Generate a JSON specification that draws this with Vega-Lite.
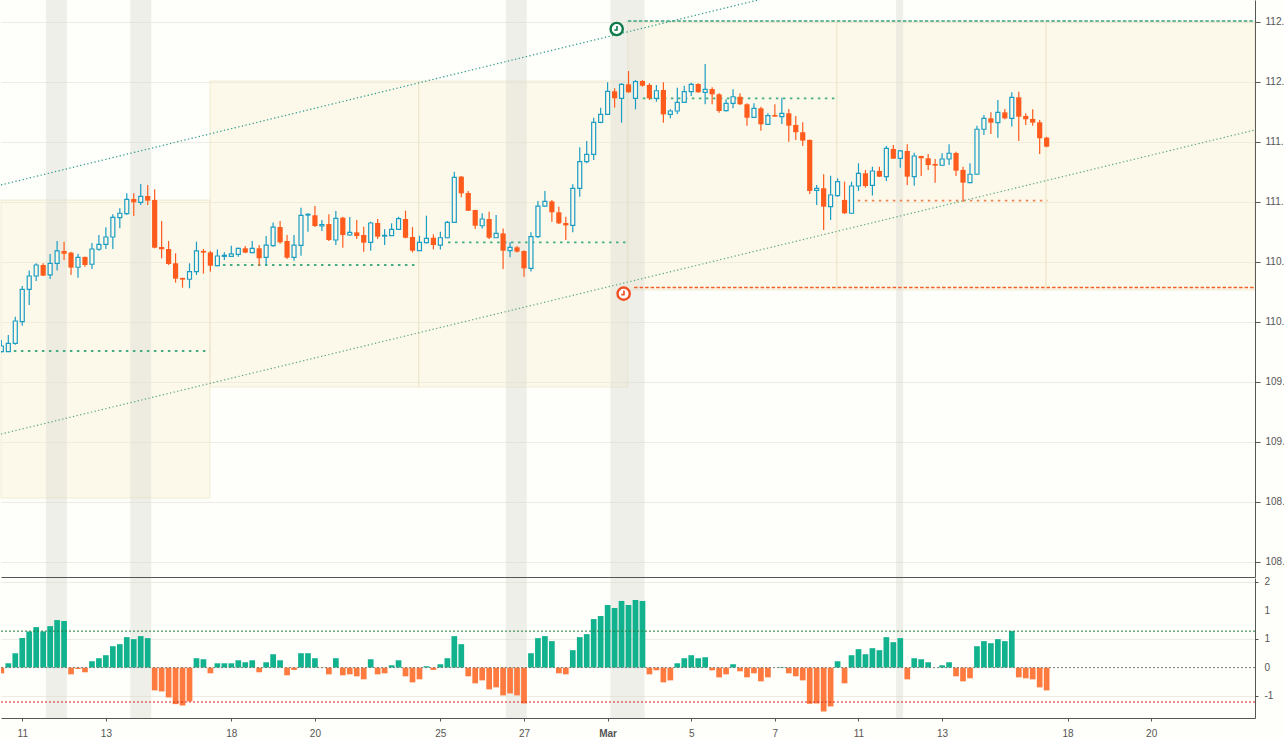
{
  "$schema": "https://vega.github.io/schema/vega-lite/v6.json",
  "background": "#fefefa",
  "padding": 0,
  "spacing": 0,
  "config": {
    "view": {"stroke": null},
    "font": "Liberation Sans",
    "axis": {"labelFont": "Liberation Sans", "labelFontSize": 10, "labelColor": "#555555", "domainColor": "#555555", "tickColor": "#555555", "gridColor": "#ecece4", "labelOverlap": false}
  },
  "datasets": {
    "rects": [
      {"x1": -0.05, "x2": 29.94, "y1": 108.533, "y2": 111.016},
      {"x1": 29.94, "x2": 59.9, "y1": 109.458, "y2": 112.008},
      {"x1": 59.9, "x2": 89.9, "y1": 109.458, "y2": 112.008},
      {"x1": 89.9, "x2": 119.9, "y1": 110.266, "y2": 112.5},
      {"x1": 119.9, "x2": 149.9, "y1": 110.266, "y2": 112.5},
      {"x1": 149.9, "x2": 179.85, "y1": 110.266, "y2": 112.5}
    ],
    "bands": [
      {"b1": 6.4, "b2": 9.4},
      {"b1": 18.5, "b2": 21.5},
      {"b1": 72.4, "b2": 75.4},
      {"b1": 87.4, "b2": 92.3},
      {"b1": 128.4, "b2": 129.4}
    ],
    "levels": [
      {"x1": 1.8, "x2": 29.94, "y": 109.758, "side": "up"},
      {"x1": 31.8, "x2": 59.9, "y": 110.475, "side": "up"},
      {"x1": 64.1, "x2": 90.05, "y": 110.664, "side": "up"},
      {"x1": 92.06, "x2": 120.0, "y": 111.864, "side": "up"},
      {"x1": 121.9, "x2": 150.1, "y": 111.011, "side": "down"}
    ],
    "upper": [{"k": -0.05, "p": 111.142}, {"k": 115, "p": 112.774}],
    "lower": [{"k": -0.05, "p": 109.066}, {"k": 179.9, "p": 111.6}],
    "signals": [
      {"k": 88.3, "p": 112.441, "x1": 89.9, "x2": 179.9, "lp": 112.508, "side": "up"},
      {"k": 89.3, "p": 110.236, "x1": 90.8, "x2": 179.9, "lp": 110.287, "side": "down"}
    ],
    "osclines": [
      {"v": 0.641, "col": "#1b7a3c"},
      {"v": 0, "col": "#7a7a7a"},
      {"v": -0.604, "col": "#d02020"}
    ],
    "osclabels": [
      {"v": 1.5, "t": "2", "pos": 181.25},
      {"v": 1, "t": "1", "pos": 181.25},
      {"v": 0.5, "t": "1", "pos": 181.25},
      {"v": 0, "t": "0", "pos": 181.25},
      {"v": -0.5, "t": "-1", "pos": 181.25}
    ],
    "candles": [
      {"k":0,"o":109.753,"h":109.85,"l":109.745,"c":109.8},
      {"k":1,"o":109.753,"h":109.892,"l":109.75,"c":109.822},
      {"k":2,"o":109.822,"h":110.044,"l":109.81,"c":110.008},
      {"k":3,"o":110.003,"h":110.3,"l":109.969,"c":110.272},
      {"k":4,"o":110.272,"h":110.428,"l":110.142,"c":110.383},
      {"k":5,"o":110.383,"h":110.489,"l":110.342,"c":110.475},
      {"k":6,"o":110.475,"h":110.489,"l":110.383,"c":110.386},
      {"k":7,"o":110.392,"h":110.567,"l":110.358,"c":110.489},
      {"k":8,"o":110.489,"h":110.675,"l":110.428,"c":110.592},
      {"k":9,"o":110.592,"h":110.669,"l":110.517,"c":110.569},
      {"k":10,"o":110.578,"h":110.586,"l":110.392,"c":110.453},
      {"k":11,"o":110.456,"h":110.569,"l":110.369,"c":110.539},
      {"k":12,"o":110.542,"h":110.545,"l":110.461,"c":110.475},
      {"k":13,"o":110.481,"h":110.658,"l":110.442,"c":110.608},
      {"k":14,"o":110.606,"h":110.725,"l":110.594,"c":110.647},
      {"k":15,"o":110.647,"h":110.789,"l":110.608,"c":110.708},
      {"k":16,"o":110.708,"h":110.897,"l":110.608,"c":110.872},
      {"k":17,"o":110.869,"h":110.947,"l":110.781,"c":110.906},
      {"k":18,"o":110.903,"h":111.072,"l":110.894,"c":111.022},
      {"k":19,"o":111.025,"h":111.072,"l":110.883,"c":110.997},
      {"k":20,"o":110.997,"h":111.15,"l":110.975,"c":111.047},
      {"k":21,"o":111.05,"h":111.142,"l":110.975,"c":111.011},
      {"k":22,"o":111.017,"h":111.106,"l":110.614,"c":110.619},
      {"k":23,"o":110.625,"h":110.842,"l":110.531,"c":110.606},
      {"k":24,"o":110.608,"h":110.675,"l":110.475,"c":110.483},
      {"k":25,"o":110.489,"h":110.572,"l":110.328,"c":110.361},
      {"k":26,"o":110.367,"h":110.369,"l":110.286,"c":110.353},
      {"k":27,"o":110.356,"h":110.489,"l":110.281,"c":110.419},
      {"k":28,"o":110.419,"h":110.669,"l":110.392,"c":110.592},
      {"k":29,"o":110.592,"h":110.608,"l":110.403,"c":110.578},
      {"k":30,"o":110.58,"h":110.592,"l":110.419,"c":110.469},
      {"k":31,"o":110.469,"h":110.603,"l":110.465,"c":110.55},
      {"k":32,"o":110.547,"h":110.581,"l":110.517,"c":110.556},
      {"k":33,"o":110.547,"h":110.636,"l":110.544,"c":110.567},
      {"k":34,"o":110.564,"h":110.619,"l":110.544,"c":110.614},
      {"k":35,"o":110.614,"h":110.633,"l":110.572,"c":110.578},
      {"k":36,"o":110.578,"h":110.675,"l":110.572,"c":110.614},
      {"k":37,"o":110.614,"h":110.642,"l":110.469,"c":110.531},
      {"k":38,"o":110.539,"h":110.716,"l":110.475,"c":110.641},
      {"k":39,"o":110.636,"h":110.83,"l":110.627,"c":110.791},
      {"k":40,"o":110.791,"h":110.841,"l":110.652,"c":110.664},
      {"k":41,"o":110.675,"h":110.725,"l":110.525,"c":110.536},
      {"k":42,"o":110.539,"h":110.725,"l":110.511,"c":110.641},
      {"k":43,"o":110.639,"h":110.952,"l":110.552,"c":110.889},
      {"k":44,"o":110.891,"h":110.905,"l":110.752,"c":110.897},
      {"k":45,"o":110.889,"h":110.966,"l":110.791,"c":110.8},
      {"k":46,"o":110.8,"h":110.85,"l":110.758,"c":110.811},
      {"k":47,"o":110.816,"h":110.897,"l":110.675,"c":110.683},
      {"k":48,"o":110.683,"h":110.925,"l":110.641,"c":110.864},
      {"k":49,"o":110.869,"h":110.877,"l":110.619,"c":110.725},
      {"k":50,"o":110.725,"h":110.875,"l":110.719,"c":110.747},
      {"k":51,"o":110.747,"h":110.85,"l":110.691,"c":110.716},
      {"k":52,"o":110.725,"h":110.794,"l":110.586,"c":110.661},
      {"k":53,"o":110.664,"h":110.836,"l":110.594,"c":110.825},
      {"k":54,"o":110.825,"h":110.858,"l":110.691,"c":110.711},
      {"k":55,"o":110.716,"h":110.772,"l":110.641,"c":110.722},
      {"k":56,"o":110.719,"h":110.822,"l":110.716,"c":110.772},
      {"k":57,"o":110.772,"h":110.877,"l":110.766,"c":110.861},
      {"k":58,"o":110.858,"h":110.927,"l":110.697,"c":110.702},
      {"k":59,"o":110.708,"h":110.791,"l":110.58,"c":110.594},
      {"k":60,"o":110.594,"h":110.719,"l":110.591,"c":110.664},
      {"k":61,"o":110.661,"h":110.886,"l":110.655,"c":110.697},
      {"k":62,"o":110.702,"h":110.73,"l":110.605,"c":110.641},
      {"k":63,"o":110.641,"h":110.752,"l":110.605,"c":110.702},
      {"k":64,"o":110.702,"h":110.841,"l":110.697,"c":110.83},
      {"k":65,"o":110.83,"h":111.252,"l":110.825,"c":111.205},
      {"k":66,"o":111.211,"h":111.216,"l":111.039,"c":111.072},
      {"k":67,"o":111.075,"h":111.091,"l":110.925,"c":110.927},
      {"k":68,"o":110.933,"h":110.935,"l":110.775,"c":110.802},
      {"k":69,"o":110.802,"h":110.905,"l":110.78,"c":110.858},
      {"k":70,"o":110.858,"h":110.919,"l":110.691,"c":110.702},
      {"k":71,"o":110.702,"h":110.891,"l":110.7,"c":110.738},
      {"k":72,"o":110.738,"h":110.78,"l":110.441,"c":110.594},
      {"k":73,"o":110.594,"h":110.664,"l":110.539,"c":110.622},
      {"k":74,"o":110.622,"h":110.633,"l":110.58,"c":110.586},
      {"k":75,"o":110.591,"h":110.597,"l":110.377,"c":110.447},
      {"k":76,"o":110.447,"h":110.747,"l":110.42,"c":110.711},
      {"k":77,"o":110.711,"h":111.008,"l":110.7,"c":110.966},
      {"k":78,"o":110.966,"h":111.091,"l":110.961,"c":111.005},
      {"k":79,"o":111.005,"h":111.016,"l":110.836,"c":110.914},
      {"k":80,"o":110.914,"h":110.961,"l":110.816,"c":110.822},
      {"k":81,"o":110.825,"h":110.877,"l":110.683,"c":110.805},
      {"k":82,"o":110.805,"h":111.147,"l":110.747,"c":111.114},
      {"k":83,"o":111.114,"h":111.455,"l":111.044,"c":111.336},
      {"k":84,"o":111.336,"h":111.508,"l":111.322,"c":111.397},
      {"k":85,"o":111.397,"h":111.702,"l":111.35,"c":111.664},
      {"k":86,"o":111.664,"h":111.786,"l":111.655,"c":111.73},
      {"k":87,"o":111.73,"h":111.997,"l":111.725,"c":111.922},
      {"k":88,"o":111.922,"h":111.947,"l":111.786,"c":111.864},
      {"k":89,"o":111.864,"h":111.989,"l":111.661,"c":111.98},
      {"k":90,"o":111.98,"h":112.091,"l":111.91,"c":111.914},
      {"k":91,"o":111.864,"h":112.016,"l":111.772,"c":112.003},
      {"k":92,"o":112.008,"h":112.016,"l":111.961,"c":111.969},
      {"k":93,"o":111.975,"h":111.989,"l":111.85,"c":111.864},
      {"k":94,"o":111.864,"h":111.975,"l":111.836,"c":111.927},
      {"k":95,"o":111.933,"h":111.997,"l":111.661,"c":111.73},
      {"k":96,"o":111.73,"h":111.772,"l":111.697,"c":111.758},
      {"k":97,"o":111.758,"h":111.952,"l":111.733,"c":111.83},
      {"k":98,"o":111.83,"h":111.969,"l":111.827,"c":111.919},
      {"k":99,"o":111.919,"h":111.994,"l":111.883,"c":111.98},
      {"k":100,"o":111.983,"h":111.989,"l":111.911,"c":111.914},
      {"k":101,"o":111.914,"h":112.15,"l":111.814,"c":111.939},
      {"k":102,"o":111.941,"h":111.955,"l":111.814,"c":111.897},
      {"k":103,"o":111.897,"h":111.905,"l":111.744,"c":111.758},
      {"k":104,"o":111.761,"h":111.855,"l":111.753,"c":111.822},
      {"k":105,"o":111.822,"h":111.939,"l":111.78,"c":111.877},
      {"k":106,"o":111.877,"h":111.905,"l":111.808,"c":111.814},
      {"k":107,"o":111.814,"h":111.822,"l":111.636,"c":111.702},
      {"k":108,"o":111.705,"h":111.822,"l":111.702,"c":111.78},
      {"k":109,"o":111.78,"h":111.794,"l":111.594,"c":111.647},
      {"k":110,"o":111.647,"h":111.739,"l":111.641,"c":111.719},
      {"k":111,"o":111.725,"h":111.814,"l":111.711,"c":111.711},
      {"k":112,"o":111.711,"h":111.869,"l":111.65,"c":111.739},
      {"k":113,"o":111.739,"h":111.775,"l":111.502,"c":111.636},
      {"k":114,"o":111.642,"h":111.717,"l":111.517,"c":111.581},
      {"k":115,"o":111.581,"h":111.664,"l":111.467,"c":111.511},
      {"k":116,"o":111.517,"h":111.52,"l":111.067,"c":111.092},
      {"k":117,"o":111.097,"h":111.142,"l":110.975,"c":111.114},
      {"k":118,"o":111.114,"h":111.231,"l":110.767,"c":110.961},
      {"k":119,"o":110.961,"h":111.219,"l":110.85,"c":111.058},
      {"k":120,"o":111.053,"h":111.197,"l":111.044,"c":111.169},
      {"k":121,"o":111.017,"h":111.169,"l":110.9,"c":110.906},
      {"k":122,"o":110.906,"h":111.169,"l":110.9,"c":111.133},
      {"k":123,"o":111.133,"h":111.322,"l":111.092,"c":111.239},
      {"k":124,"o":111.239,"h":111.267,"l":111.119,"c":111.133},
      {"k":125,"o":111.139,"h":111.294,"l":111.053,"c":111.258},
      {"k":126,"o":111.258,"h":111.294,"l":111.208,"c":111.211},
      {"k":127,"o":111.211,"h":111.467,"l":111.175,"c":111.447},
      {"k":128,"o":111.442,"h":111.475,"l":111.358,"c":111.361},
      {"k":129,"o":111.364,"h":111.433,"l":111.286,"c":111.425},
      {"k":130,"o":111.425,"h":111.481,"l":111.142,"c":111.211},
      {"k":131,"o":111.211,"h":111.411,"l":111.136,"c":111.383},
      {"k":132,"o":111.383,"h":111.386,"l":111.217,"c":111.364},
      {"k":133,"o":111.364,"h":111.4,"l":111.267,"c":111.308},
      {"k":134,"o":111.317,"h":111.358,"l":111.161,"c":111.303},
      {"k":135,"o":111.306,"h":111.406,"l":111.3,"c":111.358},
      {"k":136,"o":111.358,"h":111.481,"l":111.308,"c":111.406},
      {"k":137,"o":111.408,"h":111.419,"l":111.217,"c":111.261},
      {"k":138,"o":111.267,"h":111.294,"l":111.003,"c":111.161},
      {"k":139,"o":111.161,"h":111.322,"l":111.156,"c":111.231},
      {"k":140,"o":111.231,"h":111.636,"l":111.225,"c":111.606},
      {"k":141,"o":111.606,"h":111.725,"l":111.558,"c":111.697},
      {"k":142,"o":111.697,"h":111.747,"l":111.567,"c":111.661},
      {"k":143,"o":111.661,"h":111.85,"l":111.536,"c":111.747},
      {"k":144,"o":111.747,"h":111.775,"l":111.689,"c":111.697},
      {"k":145,"o":111.697,"h":111.914,"l":111.628,"c":111.872},
      {"k":146,"o":111.872,"h":111.919,"l":111.508,"c":111.711},
      {"k":147,"o":111.717,"h":111.739,"l":111.642,"c":111.689},
      {"k":148,"o":111.692,"h":111.772,"l":111.636,"c":111.661},
      {"k":149,"o":111.664,"h":111.683,"l":111.4,"c":111.531},
      {"k":150,"o":111.536,"h":111.544,"l":111.456,"c":111.461}
    ],
    "osc": [
      {"k":0,"v":-0.1},{"k":1,"v":0.076},{"k":2,"v":0.253},{"k":3,"v":0.518},{"k":4,"v":0.635},{"k":5,"v":0.712},{"k":6,"v":0.635},{"k":7,"v":0.729},{"k":8,"v":0.835},{"k":9,"v":0.818},
      {"k":10,"v":-0.118},{"k":11,"v":-0.024},{"k":12,"v":-0.082},{"k":13,"v":0.112},{"k":14,"v":0.165},{"k":15,"v":0.218},{"k":16,"v":0.376},{"k":17,"v":0.412},{"k":18,"v":0.535},{"k":19,"v":0.5},
      {"k":20,"v":0.553},{"k":21,"v":0.518},{"k":22,"v":-0.4},{"k":23,"v":-0.418},{"k":24,"v":-0.524},{"k":25,"v":-0.641},{"k":26,"v":-0.665},{"k":27,"v":-0.594},{"k":28,"v":0.165},{"k":29,"v":0.147},
      {"k":30,"v":-0.1},{"k":31,"v":0.076},{"k":32,"v":0.076},{"k":33,"v":0.076},{"k":34,"v":0.129},{"k":35,"v":0.094},{"k":36,"v":0.129},{"k":37,"v":-0.082},{"k":38,"v":0.094},{"k":39,"v":0.235},
      {"k":40,"v":0.129},{"k":41,"v":-0.135},{"k":42,"v":-0.041},{"k":43,"v":0.253},{"k":44,"v":0.253},{"k":45,"v":0.165},{"k":46,"v":-0.005},{"k":47,"v":-0.118},{"k":48,"v":0.165},{"k":49,"v":-0.135},
      {"k":50,"v":-0.118},{"k":51,"v":-0.153},{"k":52,"v":-0.206},{"k":53,"v":0.147},{"k":54,"v":-0.118},{"k":55,"v":-0.1},{"k":56,"v":0.041},{"k":57,"v":0.129},{"k":58,"v":-0.153},{"k":59,"v":-0.259},
      {"k":60,"v":-0.206},{"k":61,"v":0.024},{"k":62,"v":-0.041},{"k":63,"v":0.059},{"k":64,"v":0.165},{"k":65,"v":0.553},{"k":66,"v":0.412},{"k":67,"v":-0.153},{"k":68,"v":-0.276},{"k":69,"v":-0.224},
      {"k":70,"v":-0.382},{"k":71,"v":-0.347},{"k":72,"v":-0.488},{"k":73,"v":-0.453},{"k":74,"v":-0.488},{"k":75,"v":-0.629},{"k":76,"v":0.253},{"k":77,"v":0.518},{"k":78,"v":0.553},{"k":79,"v":0.465},
      {"k":80,"v":-0.1},{"k":81,"v":-0.118},{"k":82,"v":0.306},{"k":83,"v":0.535},{"k":84,"v":0.588},{"k":85,"v":0.853},{"k":86,"v":0.906},{"k":87,"v":1.1},{"k":88,"v":1.047},{"k":89,"v":1.171},
      {"k":90,"v":1.1},{"k":91,"v":1.188},{"k":92,"v":1.171},{"k":93,"v":-0.118},{"k":94,"v":-0.047},{"k":95,"v":-0.259},{"k":96,"v":-0.224},{"k":97,"v":0.076},{"k":98,"v":0.165},{"k":99,"v":0.218},
      {"k":100,"v":0.165},{"k":101,"v":0.182},{"k":102,"v":-0.047},{"k":103,"v":-0.171},{"k":104,"v":-0.118},{"k":105,"v":0.059},{"k":106,"v":-0.065},{"k":107,"v":-0.171},{"k":108,"v":-0.1},{"k":109,"v":-0.241},
      {"k":110,"v":-0.171},{"k":111,"v":0.0},{"k":112,"v":0.01},{"k":113,"v":-0.1},{"k":114,"v":-0.153},{"k":115,"v":-0.224},{"k":116,"v":-0.635},{"k":117,"v":-0.629},{"k":118,"v":-0.771},{"k":119,"v":-0.682},
      {"k":120,"v":0.112},{"k":121,"v":-0.276},{"k":122,"v":0.218},{"k":123,"v":0.324},{"k":124,"v":0.235},{"k":125,"v":0.341},{"k":126,"v":0.306},{"k":127,"v":0.535},{"k":128,"v":0.447},{"k":129,"v":0.518},
      {"k":130,"v":-0.206},{"k":131,"v":0.165},{"k":132,"v":0.147},{"k":133,"v":0.094},{"k":134,"v":0.0},{"k":135,"v":0.041},{"k":136,"v":0.094},{"k":137,"v":-0.153},{"k":138,"v":-0.241},{"k":139,"v":-0.188},
      {"k":140,"v":0.376},{"k":141,"v":0.465},{"k":142,"v":0.429},{"k":143,"v":0.5},{"k":144,"v":0.465},{"k":145,"v":0.641},{"k":146,"v":-0.171},{"k":147,"v":-0.188},{"k":148,"v":-0.206},{"k":149,"v":-0.347},
      {"k":150,"v":-0.4}
    ]
  },
  "vconcat": [
    {
      "width": 1254,
      "height": 577,
      "layer": [
        {
          "data": {"name": "rects"},
          "mark": {"type": "rect", "fill": "#f8eecb", "fillOpacity": 0.32, "stroke": "#e4dab4", "strokeOpacity": 0.45, "strokeWidth": 1},
          "encoding": {
            "x": {"field": "x1", "type": "quantitative", "title": null, "scale": {"domain": [-0.05, 179.9], "nice": false, "zero": false, "padding": 0},
                  "axis": {"orient": "bottom", "labels": false, "ticks": false, "grid": false, "domain": true, "zindex": 1}},
            "x2": {"field": "x2"},
            "y": {"field": "y1", "type": "quantitative", "title": null, "scale": {"domain": [107.875, 112.683], "nice": false, "zero": false, "padding": 0},
                  "axis": {"orient": "right", "values": [108, 108.5, 109, 109.5, 110, 110.5, 111, 111.5, 112, 112.5], "labelExpr": "floor(datum.value + 0.001) + '.'", "labelOverlap": false, "tickSize": 5, "labelPadding": 5, "grid": true, "zindex": 0}},
            "y2": {"field": "y2"}
          }
        },
        {
          "data": {"name": "bands"},
          "mark": {"type": "rect", "fill": "#d8d8cf", "opacity": 0.38},
          "encoding": {
            "x": {"field": "b1", "type": "quantitative", "title": null},
            "x2": {"field": "b2"}
          }
        },
        {
          "data": {"name": "levels"},
          "mark": {"type": "rule", "strokeDash": [2.5, 4.5], "strokeWidth": 1.8},
          "encoding": {
            "x": {"field": "x1", "type": "quantitative", "title": null},
            "x2": {"field": "x2"},
            "y": {"field": "y", "type": "quantitative", "title": null},
            "color": {"condition": {"test": "datum.side == 'up'", "value": "#45ad86"}, "value": "#ee8456"}
          }
        },
        {
          "data": {"name": "upper"},
          "mark": {"type": "line", "color": "#2a9a8c", "strokeDash": [1.3, 2.4], "strokeWidth": 1.2, "clip": true},
          "encoding": {
            "x": {"field": "k", "type": "quantitative", "title": null},
            "y": {"field": "p", "type": "quantitative", "title": null}
          }
        },
        {
          "data": {"name": "lower"},
          "mark": {"type": "line", "color": "#5aaa7e", "strokeDash": [1.3, 2.4], "strokeWidth": 1.2, "clip": true},
          "encoding": {
            "x": {"field": "k", "type": "quantitative", "title": null},
            "y": {"field": "p", "type": "quantitative", "title": null}
          }
        },
        {
          "data": {"name": "candles"},
          "transform": [{"filter": "datum.c >= datum.o"}],
          "mark": {"type": "rule", "color": "#1c9dc3", "strokeWidth": 1.2, "clip": true},
          "encoding": {
            "x": {"field": "k", "type": "quantitative", "title": null},
            "y": {"field": "l", "type": "quantitative", "title": null},
            "y2": {"field": "h"}
          }
        },
        {
          "data": {"name": "candles"},
          "transform": [{"filter": "datum.c >= datum.o"}],
          "mark": {"type": "bar", "size": 4, "fill": "#fcf8ea", "stroke": "#1c9dc3", "strokeWidth": 1.2, "clip": true},
          "encoding": {
            "x": {"field": "k", "type": "quantitative", "title": null},
            "y": {"field": "o", "type": "quantitative", "title": null},
            "y2": {"field": "c"}
          }
        },
        {
          "data": {"name": "candles"},
          "transform": [{"filter": "datum.c < datum.o"}],
          "mark": {"type": "rule", "color": "#fe5b1c", "strokeWidth": 1.2, "clip": true},
          "encoding": {
            "x": {"field": "k", "type": "quantitative", "title": null},
            "y": {"field": "l", "type": "quantitative", "title": null},
            "y2": {"field": "h"}
          }
        },
        {
          "data": {"name": "candles"},
          "transform": [{"filter": "datum.c < datum.o"}],
          "mark": {"type": "bar", "size": 5.2, "color": "#fe5b1c", "clip": true},
          "encoding": {
            "x": {"field": "k", "type": "quantitative", "title": null},
            "y": {"field": "o", "type": "quantitative", "title": null},
            "y2": {"field": "c"}
          }
        },
        {
          "data": {"name": "signals"},
          "mark": {"type": "rule", "strokeDash": [3.5, 2], "strokeWidth": 1.6},
          "encoding": {
            "x": {"field": "x1", "type": "quantitative", "title": null},
            "x2": {"field": "x2"},
            "y": {"field": "lp", "type": "quantitative", "title": null},
            "color": {"condition": {"test": "datum.side == 'up'", "value": "#3aa37c"}, "value": "#f0602a"}
          }
        },
        {
          "data": {"name": "signals"},
          "mark": {"type": "point", "shape": "circle", "size": 150, "filled": false, "fill": "#ffffff", "fillOpacity": 1, "strokeWidth": 2.4, "opacity": 1},
          "encoding": {
            "x": {"field": "k", "type": "quantitative", "title": null},
            "y": {"field": "p", "type": "quantitative", "title": null},
            "stroke": {"condition": {"test": "datum.side == 'up'", "value": "#0d7a48"}, "value": "#f04e23"}
          }
        },
        {
          "data": {"name": "signals"},
          "mark": {"type": "point", "shape": "M0.05,-0.5L0.05,0.15L-0.38,0.15", "size": 150, "filled": false, "strokeWidth": 1.6, "opacity": 1},
          "encoding": {
            "x": {"field": "k", "type": "quantitative", "title": null},
            "y": {"field": "p", "type": "quantitative", "title": null},
            "stroke": {"condition": {"test": "datum.side == 'up'", "value": "#0d7a48"}, "value": "#f04e23"}
          }
        }
      ]
    },
    {
      "width": 1254,
      "height": 140,
      "layer": [
        {
          "data": {"name": "bands"},
          "mark": {"type": "rect", "fill": "#d8d8cf", "opacity": 0.38},
          "encoding": {
            "x": {"field": "b1", "type": "quantitative", "title": null, "scale": {"domain": [-0.05, 179.9], "nice": false, "zero": false, "padding": 0},
                  "axis": {"orient": "bottom", "values": [3, 15, 33, 45, 63, 75, 87, 99, 111, 123, 135, 153, 165],
                           "labelExpr": "['11','13','18','20','25','27','Mar','5','7','11','13','18','20'][indexof([3,15,33,45,63,75,87,99,111,123,135,153,165], datum.value)]",
                           "labelFontWeight": {"condition": {"test": "datum.value == 87", "value": "bold"}, "value": "normal"},
                           "labelOverlap": false, "labelFlush": false, "tickSize": 3, "labelPadding": 7, "grid": false, "zindex": 1}},
            "x2": {"field": "b2"}
          }
        },
        {
          "data": {"name": "osc"},
          "mark": {"type": "bar", "size": 5.7, "clip": true},
          "encoding": {
            "x": {"field": "k", "type": "quantitative", "title": null},
            "y": {"field": "v", "type": "quantitative", "title": null, "scale": {"domain": [-0.885, 1.574], "nice": false, "zero": false, "padding": 0},
                  "axis": {"orient": "right", "values": [1.5, 1, 0.5, 0, -0.5], "labels": false, "tickSize": 3, "grid": true, "zindex": 0}},
            "y2": {"datum": 0},
            "color": {"condition": {"test": "datum.v >= 0", "value": "#12b28e"}, "value": "#ff7a3e"}
          }
        },
        {
          "data": {"name": "osclines"},
          "mark": {"type": "rule", "strokeDash": [2, 2], "strokeWidth": 1},
          "encoding": {
            "y": {"field": "v", "type": "quantitative", "title": null},
            "color": {"field": "col", "type": "nominal", "scale": null}
          }
        },
        {
          "data": {"name": "osclabels"},
          "mark": {"type": "text", "align": "left", "baseline": "middle", "font": "Liberation Sans", "fontSize": 10, "color": "#555555"},
          "encoding": {
            "x": {"field": "pos", "type": "quantitative", "title": null},
            "y": {"field": "v", "type": "quantitative", "title": null},
            "text": {"field": "t"}
          }
        }
      ]
    }
  ]
}
